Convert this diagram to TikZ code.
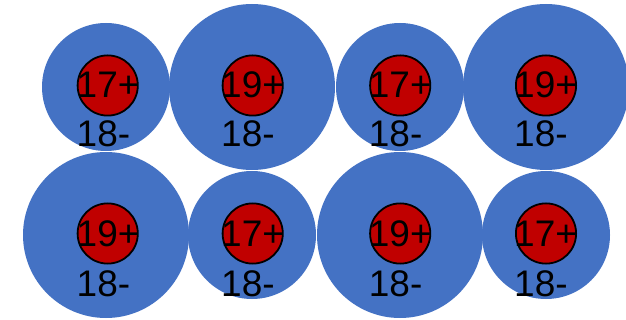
\documentclass[tikz,border=0pt]{standalone}
\usepackage{fontspec}
\setmainfont{Liberation Sans}
\definecolor{cblue}{HTML}{4472C4}
\definecolor{cred}{HTML}{C00000}
\begin{document}
\begin{tikzpicture}[x=1pt,y=-1pt,
  bigc/.style={circle,fill=cblue,inner sep=0pt,minimum size=166pt},
  smallc/.style={circle,fill=cblue,inner sep=0pt,minimum size=128pt},
  dot/.style={circle,fill=cred,draw=black,line width=1.8pt,inner sep=0pt,minimum size=60.2pt},
  lbl/.style={inner sep=0pt,anchor=base west,font=\fontsize{37}{42}\selectfont}]
\useasboundingbox (0,0) rectangle (626,320);
\clip (0,0) rectangle (626,320);
% blue circles
\node[smallc] (b1) at (106,87) {};
\node[bigc]   (b2) at (252,87) {};
\node[smallc] (b3) at (400,87) {};
\node[bigc]   (b4) at (546,87) {};
\node[bigc]   (b5) at (106,235) {};
\node[smallc] (b6) at (252,235) {};
\node[bigc]   (b7) at (400,235) {};
\node[smallc] (b8) at (546,235) {};
% red dots
\node[dot] (r1) at (107.7,85.5) {};
\node[dot] (r2) at (252.7,85.5) {};
\node[dot] (r3) at (400.2,85.5) {};
\node[dot] (r4) at (546,85.5) {};
\node[dot] (r5) at (107.7,233.5) {};
\node[dot] (r6) at (252.7,233.5) {};
\node[dot] (r7) at (400.2,233.5) {};
\node[dot] (r8) at (546,233.5) {};
% labels
\begin{scope}
\clip (0,0) rectangle (626,147.4) (0,160) rectangle (626,297.4);
\node[lbl] (t1) at (76.5,97.3) {17+};
\node[lbl] (u1) at (76.5,146.7) {18-};
\node[lbl] (t2) at (221,97.3) {19+};
\node[lbl] (u2) at (221,146.7) {18-};
\node[lbl] (t3) at (368.7,97.3) {17+};
\node[lbl] (u3) at (368.7,146.7) {18-};
\node[lbl] (t4) at (514,97.3) {19+};
\node[lbl] (u4) at (514,146.7) {18-};
\node[lbl] (t5) at (76.5,246.7) {19+};
\node[lbl] (u5) at (76.5,296.7) {18-};
\node[lbl] (t6) at (221,246.7) {17+};
\node[lbl] (u6) at (221,296.7) {18-};
\node[lbl] (t7) at (368.7,246.7) {19+};
\node[lbl] (u7) at (368.7,296.7) {18-};
\node[lbl] (t8) at (514,246.7) {17+};
\node[lbl] (u8) at (514,296.7) {18-};
\end{scope}
\end{tikzpicture}
\end{document}
